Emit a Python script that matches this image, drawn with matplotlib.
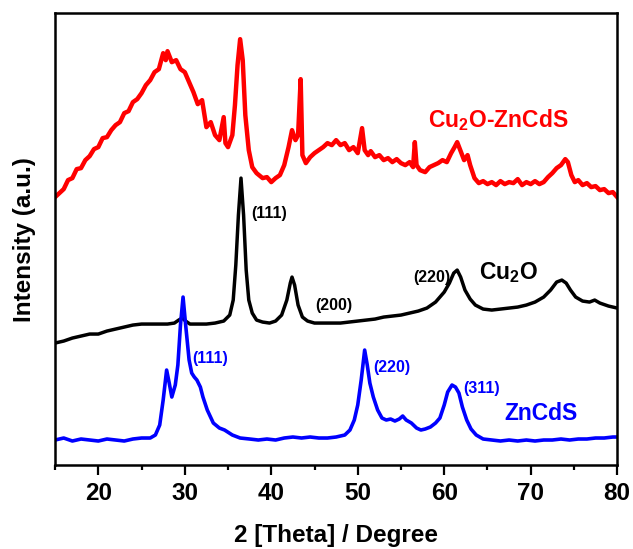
import matplotlib
matplotlib.use("Agg")
import matplotlib.pyplot as plt
from matplotlib.ticker import MultipleLocator

plt.rcParams['font.family'] = ['Liberation Sans', 'DejaVu Sans']
plt.rcParams['font.weight'] = 'bold'
plt.rcParams['mathtext.fontset'] = 'custom'
plt.rcParams['mathtext.rm'] = 'Liberation Sans:bold'
plt.rcParams['mathtext.bf'] = 'Liberation Sans:bold'

# Cu2O-ZnCdS (red), offset intensity in arbitrary units
red_x = [15, 15.5, 16, 16.5, 17, 17.5, 18, 18.5, 19, 19.5, 20, 20.5, 21, 21.5, 22, 22.5,
         23, 23.5, 24, 24.5, 25, 25.5, 26, 26.5, 27, 27.5, 27.8, 28, 28.5, 29, 29.5, 30,
         30.5, 31, 31.5, 32, 32.5, 33, 33.5, 34, 34.5, 34.7, 35, 35.5, 35.8, 36.1, 36.4,
         36.7, 37, 37.4, 37.8, 38.3, 39, 39.5, 40, 40.5, 41, 41.5, 42, 42.4, 42.8, 43.1,
         43.4, 43.6, 44, 44.5, 45, 45.5, 46, 46.5, 47, 47.5, 48, 48.5, 49, 49.5, 50, 50.5,
         50.8, 51.2, 51.5, 52, 52.5, 53, 53.5, 54, 54.5, 55, 55.5, 56, 56.4, 56.6, 56.8,
         57.2, 57.8, 58.3, 58.8, 59.3, 59.8, 60.3, 60.8, 61.2, 61.5, 61.9, 62.3, 62.7, 63,
         63.5, 64, 64.5, 65, 65.5, 66, 66.5, 67, 67.5, 68, 68.5, 69, 69.5, 70, 70.5, 71,
         71.5, 72, 72.5, 73, 73.5, 74, 74.3, 74.7, 75.1, 75.5, 76, 76.5, 77, 77.5, 78,
         78.5, 79, 79.5, 80]
red_y = [268, 272, 276, 285, 287, 296, 297, 305, 309, 316, 318, 327, 328, 335, 340, 343,
         352, 354, 363, 366, 372, 380, 385, 393, 396, 412, 405, 414, 403, 405, 396, 393,
         383, 373, 361, 365, 338, 343, 330, 325, 348, 322, 318, 330, 360, 400, 426,
         405, 350, 315, 298, 292, 287, 288, 283, 287, 290, 300, 318, 335, 325, 330,
         386, 310, 302, 308, 312, 315, 318, 322, 320, 325, 320, 322, 315, 318, 312, 337,
         315, 310, 314, 308, 310, 305, 307, 303, 306, 302, 300, 303, 298, 323, 300,
         295, 293, 298, 300, 302, 305, 303, 312, 318, 323, 314, 305, 310, 300,
         287, 282, 284, 281, 283, 280, 284, 281, 283, 282, 286, 280, 283, 281, 284, 281,
         283, 288, 292, 297, 300, 306, 303, 290, 283, 285, 280, 282, 278, 279, 275,
         276, 272, 273, 268]

# Cu2O (black)
black_x = [15, 16, 17, 18, 19, 20, 21, 22, 23, 24, 25, 26, 27, 28, 28.8, 29.3, 29.7, 30.1,
           30.6, 31.5, 32.5, 33.5, 34.5, 35.2, 35.6, 35.9, 36.2, 36.5, 36.8, 37.1, 37.4,
           37.8, 38.3, 39, 39.8, 40.5, 41.2, 41.8, 42.2, 42.4, 42.7, 43.1, 43.6, 44.2, 45,
           46, 47, 48, 49, 50, 51, 52, 53, 54, 55, 56, 57, 58, 59, 60, 60.6, 61.1, 61.5,
           61.9, 62.4, 63, 63.6, 64.5, 65.5, 66.5, 67.5, 68.5, 69.5, 70.5, 71.5, 72.3, 73,
           73.6, 74.1, 74.6, 75.2, 76, 76.8, 77.4, 78, 79, 80]
black_y = [122, 124, 127, 129, 131, 131, 134, 136, 138, 140, 141, 141, 141, 141, 142, 145, 147, 144,
           141, 141, 141, 142, 144, 150, 165, 200, 250, 287, 250, 195, 165,
           152, 145, 143, 142, 144, 150, 165, 182, 188, 180, 160, 148, 144, 142,
           142, 142, 142, 143, 144, 145, 146, 148, 149, 150, 152, 154, 157, 163, 173, 182, 192, 195,
           188, 175, 166, 160, 156, 155, 156, 157, 158, 160, 163, 168, 175, 183,
           185, 182, 175, 168, 164, 163, 165, 162, 159, 157]

# ZnCdS (blue)
blue_x = [15, 16, 17, 18, 19, 20, 21, 22, 23, 24, 25, 26, 26.6, 27.1, 27.5, 27.9, 28.2, 28.5,
          28.9, 29.2, 29.5, 29.8, 30.1, 30.5, 30.8, 31.1, 31.4, 31.8, 32.1, 32.6, 33.3, 34,
          34.6, 35.5, 36.4, 37.5, 38.5, 39.5, 40.5, 41.5, 42.5, 43.5, 44.5, 45.5, 46.5, 47.5,
          48.5, 49.1, 49.6, 50, 50.4, 50.8, 51.1, 51.4, 51.8, 52.3, 52.8, 53.3, 53.8, 54.3,
          54.8, 55.2, 55.6, 56.2, 56.8, 57.3, 57.8, 58.4, 59, 59.5, 60, 60.4, 60.9, 61.3,
          61.7, 62.1, 62.6, 63.1, 63.7, 64.5, 65.5, 66.5, 67.5, 68.5, 69.5, 70.5, 71.5, 72.5,
          73.5, 74.5, 75.5, 76.5, 77.5, 78.5, 79.5, 80]
blue_y = [25, 27, 24, 26, 25, 24, 26, 25, 24, 26, 27, 27, 30, 40, 65, 95, 82, 68,
          80, 100, 140, 168, 140, 105, 92, 88, 85, 78, 68, 55, 42, 37,
          35, 30, 27, 26, 25, 26, 25, 27, 28, 27, 28, 27, 27, 28,
          30, 35, 45, 60, 85, 115, 100, 82, 68, 55, 47, 45, 46, 44,
          46, 49, 45, 42, 37, 35, 36, 38, 42, 47, 60, 73, 80, 78,
          72, 58, 45, 36, 30, 26, 25, 24, 25, 24, 25, 24, 25, 25,
          26, 25, 26, 26, 27, 27, 28, 28]

fig = plt.figure(figsize=(6.33, 5.49), dpi=100)
ax = fig.add_axes([0.087, 0.153, 0.888, 0.823])

ax.plot(red_x, red_y, color='#ff0000', lw=3.2)
ax.plot(black_x, black_y, color='black', lw=2.5)
ax.plot(blue_x, blue_y, color='#0000ff', lw=2.6)

ax.set_xlim(15, 80)
ax.set_ylim(0, 452)
ax.xaxis.set_major_locator(MultipleLocator(10))
ax.xaxis.set_minor_locator(MultipleLocator(5))
ax.set_yticks([])
ax.tick_params(axis='x', which='major', direction='out', length=7, width=1.6,
               labelsize=17.5, pad=5)
ax.tick_params(axis='x', which='minor', direction='out', length=3.5, width=1.6)
for s in ax.spines.values():
    s.set_linewidth(1.8)

ax.set_xlabel('2 [Theta] / Degree', fontsize=17.5, fontweight='bold', labelpad=14)
ax.set_ylabel('Intensity (a.u.)', fontsize=17.5, fontweight='bold', labelpad=14)

# curve names
ax.text(66.3, 345, 'Cu$_2$O-ZnCdS', color='#ff0000', fontsize=16.5, ha='center', va='center')
ax.text(67.4, 193, 'Cu$_2$O', color='black', fontsize=16.5, ha='center', va='center')
ax.text(71.2, 52, 'ZnCdS', color='#0000ff', fontsize=16.5, ha='center', va='center')

# peak indices
ax.text(39.7, 252, '(111)', color='black', fontsize=11.5, ha='center', va='center')
ax.text(47.2, 160, '(200)', color='black', fontsize=11.5, ha='center', va='center')
ax.text(58.6, 188, '(220)', color='black', fontsize=11.5, ha='center', va='center')
ax.text(32.9, 107, '(111)', color='#0000ff', fontsize=11.5, ha='center', va='center')
ax.text(53.9, 98, '(220)', color='#0000ff', fontsize=11.5, ha='center', va='center')
ax.text(64.3, 77, '(311)', color='#0000ff', fontsize=11.5, ha='center', va='center')

fig.savefig('out.png', dpi=100)
